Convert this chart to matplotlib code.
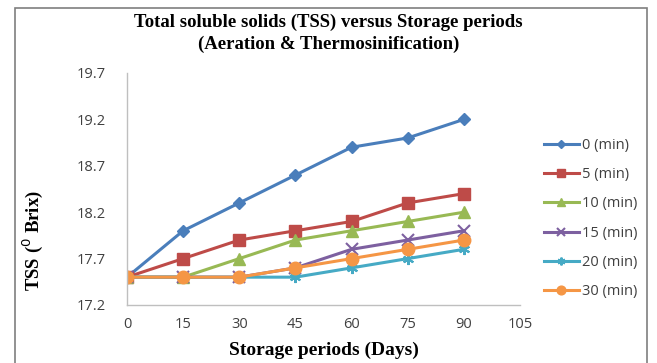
import matplotlib
matplotlib.use("Agg")
import matplotlib.pyplot as plt
from matplotlib.patches import Rectangle

days = [0, 15, 30, 45, 60, 75, 90]
labels = ["0 (min)", "5 (min)", "10 (min)", "15 (min)", "20 (min)", "30 (min)"]
s0 = [17.5, 18.0, 18.3, 18.6, 18.9, 19.0, 19.2]
s5 = [17.5, 17.7, 17.9, 18.0, 18.1, 18.3, 18.4]
s10 = [17.5, 17.5, 17.7, 17.9, 18.0, 18.1, 18.2]
s15 = [17.5, 17.5, 17.5, 17.6, 17.8, 17.9, 18.0]
s20 = [17.5, 17.5, 17.5, 17.5, 17.6, 17.7, 17.8]
s30 = [17.5, 17.5, 17.5, 17.6, 17.7, 17.8, 17.9]
xticks = [0, 15, 30, 45, 60, 75, 90, 105]
yticks = [17.2, 17.7, 18.2, 18.7, 19.2, 19.7]

series = [s0, s5, s10, s15, s20, s30]
colors = ["#4A7EBB", "#BE4B48", "#98B954", "#7D60A0", "#46AAC5", "#F59645"]
markers = ["D", "s", "^", "x", (6, 2, 0), "o"]
msizes = [6, 8, 8, 8, 8, 9]

W, H = 657, 363
fig = plt.figure(figsize=(W / 100, H / 100), dpi=100)
fig.patches.append(Rectangle((15 / W, -0.1), (647 - 15) / W, 1.1 - 8 / H,
                             transform=fig.transFigure, fill=False,
                             edgecolor="#7F7F7F", linewidth=1.2))
ax = fig.add_axes([127 / W, 1 - 305 / H, (520 - 127) / W, (305 - 73) / H])

for ys, lab, c, m, ms in zip(series, labels, colors, markers, msizes):
    ax.plot(days, ys, color=c, marker=m, markersize=ms, linewidth=2.2,
            label=lab, markeredgewidth=1.5 if m in ("x",) or isinstance(m, tuple) else 1,
            markeredgecolor=c)

ax.set_xlim(0, 105)
ax.set_ylim(17.2, 19.7)
ax.set_xticks(xticks)
ax.set_yticks(yticks)
ax.set_yticklabels([f"{v:.1f}" for v in yticks])
for t in ax.get_xticklabels() + ax.get_yticklabels():
    t.set_fontfamily("Open Sans")
    t.set_fontsize(10.5)
    t.set_color("#404040")
ax.tick_params(axis="x", length=0, pad=9)
ax.tick_params(axis="y", length=0, pad=15)
for s in ["top", "right"]:
    ax.spines[s].set_visible(False)
for s in ["left", "bottom"]:
    ax.spines[s].set_color("#BFBFBF")
    ax.spines[s].set_linewidth(1)

ax.set_xlabel("Storage periods (Days)", family="Liberation Serif",
              fontweight="bold", fontsize=14)
ax.xaxis.set_label_coords(0.5, -(350 - 305) / 232, transform=ax.transAxes)
ax.xaxis.label.set_va("center")
ax.set_ylabel("TSS ($^{0}$ Brix)", family="Liberation Serif",
              fontweight="bold", fontsize=13.5)
ax.yaxis.set_label_coords((33 - 127) / 393, (305 - 241) / 232)
ax.yaxis.label.set_va("center")

fig.text(0.5, 1 - 22 / H, "Total soluble solids (TSS) versus Storage periods",
         ha="center", va="center", family="Liberation Serif",
         fontweight="bold", fontsize=13.5)
fig.text(0.5, 1 - 44 / H, "(Aeration & Thermosinification)",
         ha="center", va="center", family="Liberation Serif",
         fontweight="bold", fontsize=13.5)

leg = ax.legend(loc="upper left", bbox_to_anchor=(538 / W, 1 - 132 / H),
                bbox_transform=fig.transFigure, frameon=False,
                prop=dict(family="Open Sans", size=10.5),
                handlelength=2.4, handletextpad=0.25, labelspacing=0.98,
                borderaxespad=0, markerscale=0.7)
for t in leg.get_texts():
    t.set_color("#404040")

fig.savefig("out.png", dpi=100)
